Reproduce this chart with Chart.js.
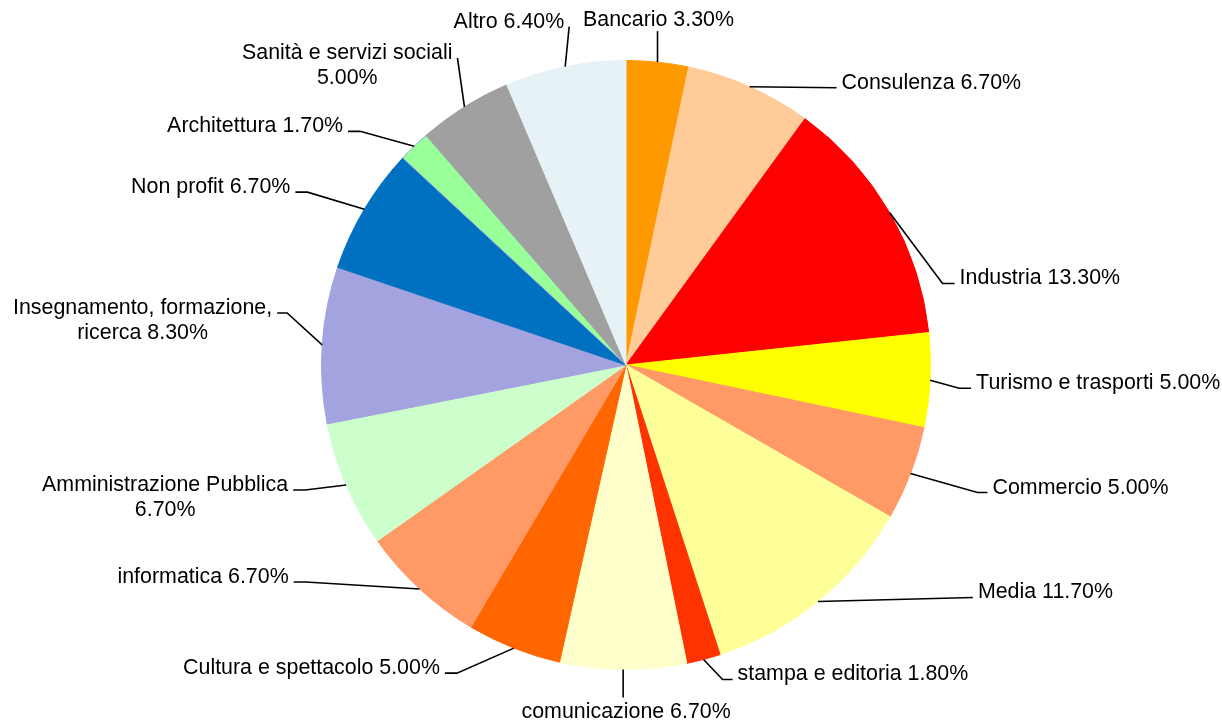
<!DOCTYPE html>
<html>
<head>
<meta charset="utf-8">
<script src="https://cdn.jsdelivr.net/npm/chart.js@4/dist/chart.umd.min.js"></script>
<style>
  html, body { margin: 0; padding: 0; background: #fff; }
  #wrap { width: 1222px; height: 722px; }
</style>
</head>
<body>
<div id="wrap"><canvas id="chart" width="1222" height="722"></canvas></div>
<script>
// ── data ────────────────────────────────────────────────────────────────────
const categories = [
  "Bancario", "Consulenza", "Industria", "Turismo e trasporti", "Commercio",
  "Media", "stampa e editoria", "comunicazione", "Cultura e spettacolo",
  "informatica", "Amministrazione Pubblica", "Insegnamento, formazione,\nricerca",
  "Non profit", "Architettura", "Sanità e servizi sociali", "Altro"
]
const shares = [3.3, 6.7, 13.3, 5.0, 5.0, 11.7, 1.8, 6.7, 5.0, 6.7, 6.7, 8.3, 6.7, 1.7, 5.0, 6.4]

const colors = [
  "#FF9900", "#FFCC99", "#FF0000", "#FFFF00", "#FF9966",
  "#FFFF99", "#FF3300", "#FFFFCC", "#FF6600", "#FF9966",
  "#CCFFCC", "#A3A3DF", "#0070C0", "#99FF99", "#A0A0A0", "#E6F2F5"
]

// ── label layout: elbow offset from the slice edge, stub length, side ───────
//   side: "r" text right of the line, "l" left, "t" above, "b" below
const labelLayout = [
  { dx: 0,    dy: -31, stub: 0,   side: "t" },
  { dx: 87,   dy: 1,   stub: 0,   side: "r" },
  { dx: 53,   dy: 71,  stub: 12,  side: "r" },
  { dx: 29,   dy: 8,   stub: 12,  side: "r" },
  { dx: 67,   dy: 19,  stub: 10,  side: "r" },
  { dx: 155,  dy: -4,  stub: 0,   side: "r" },
  { dx: 19,   dy: 20,  stub: 10,  side: "r" },
  { dx: 0,    dy: 28,  stub: 0,   side: "b" },
  { dx: -57,  dy: 25,  stub: 12,  side: "l" },
  { dx: -114, dy: -7,  stub: 12,  side: "l" },
  { dx: -41,  dy: 5,   stub: 12,  side: "l", wrap: true },
  { dx: -35,  dy: -32, stub: 10,  side: "l" },
  { dx: -57,  dy: -17, stub: 12,  side: "l" },
  { dx: -54,  dy: -15, stub: 12,  side: "l" },
  { dx: -7,   dy: -49, stub: 0,   side: "l", wrap: true },
  { dx: 4,    dy: -40, stub: 0,   side: "l" }
]

const FONT = '21.4px "Liberation Sans", Arial, sans-serif'
const LINE_H = 25

const labelText = i => {
  const pct = shares[i].toFixed(2) + "%"
  const sep = labelLayout[i].wrap ? "\n" : " "
  return (categories[i] + sep + pct).split("\n")
}

// ── leader lines + labels ──────────────────────────────────────────────────
const leaderLabels = {
  id: "leaderLabels",
  afterDraw(chart) {
    const ctx = chart.ctx
    const arcs = chart.getDatasetMeta(0).data
    ctx.save()
    ctx.font = FONT
    ctx.fillStyle = "#000"
    ctx.strokeStyle = "#000"
    ctx.lineWidth = 1.6
    arcs.forEach((arc, i) => {
      const p = arc.getProps(["x", "y", "startAngle", "endAngle", "outerRadius"], true)
      const mid = (p.startAngle + p.endAngle) / 2
      const ax = p.x + Math.cos(mid) * p.outerRadius
      const ay = p.y + Math.sin(mid) * p.outerRadius
      const L = labelLayout[i]
      const ex = ax + L.dx
      const ey = ay + L.dy
      const sx = L.side === "l" ? ex - L.stub : ex + L.stub

      ctx.beginPath()
      ctx.moveTo(ax, ay)
      ctx.lineTo(ex, ey)
      ctx.lineTo(sx, ey)
      ctx.stroke()

      const lines = labelText(i)
      const w = Math.max(...lines.map(t => ctx.measureText(t).width))
      ctx.textBaseline = "alphabetic"
      ctx.textAlign = "center"
      let cx, by
      if (L.side === "t") {
        cx = ex + 1; by = ey - 5 - (lines.length - 1) * LINE_H
      } else if (L.side === "b") {
        cx = ex + 3; by = ey + 21
      } else if (L.side === "r") {
        cx = sx + 5 + w / 2; by = ey + 1
      } else {
        cx = sx - 5 - w / 2; by = ey + 1
      }
      lines.forEach((t, k) => ctx.fillText(t, cx, by + k * LINE_H))
    })
    ctx.restore()
  }
}

const borderColors = colors.map((c, i) => categories[i] === "Architettura" ? "#9A9AEE" : c)

new Chart(document.getElementById("chart"), {
  type: "pie",
  data: {
    labels: categories,
    datasets: [{
      data: shares,
      backgroundColor: colors,
      borderColor: borderColors,
      borderWidth: 1,
      hoverOffset: 0
    }]
  },
  options: {
    responsive: false,
    animation: false,
    events: [],
    layout: { padding: { left: 321, right: 291, top: 60, bottom: 52 } },
    plugins: {
      legend: { display: false },
      tooltip: { enabled: false }
    }
  },
  plugins: [leaderLabels]
})
</script>
</body>
</html>
